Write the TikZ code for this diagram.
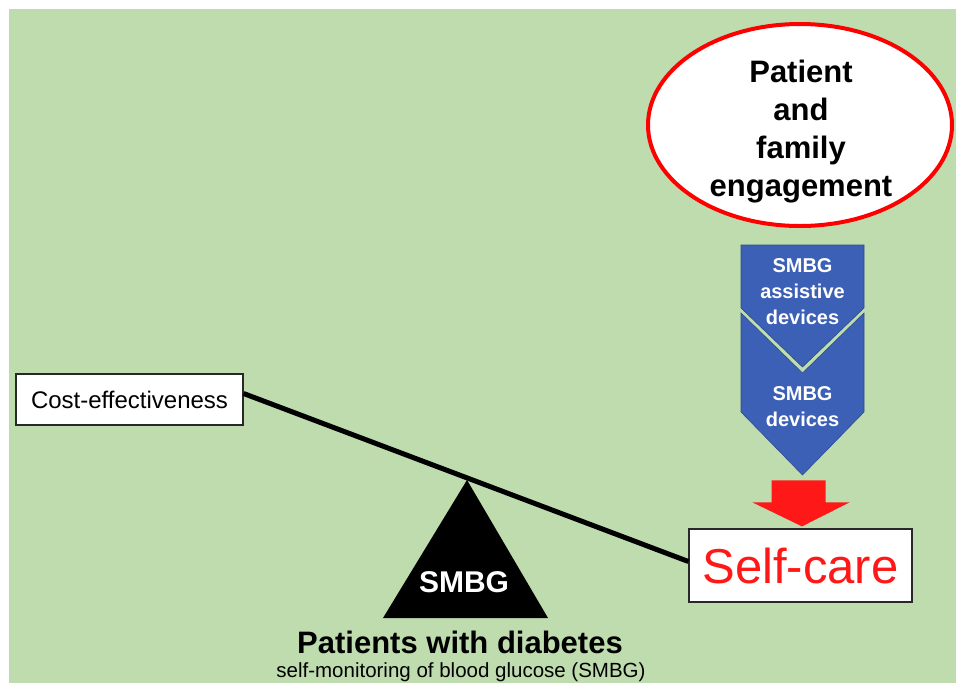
\documentclass[tikz,border=0pt]{standalone}
\usepackage{fontspec}
\setmainfont{Liberation Sans}
\usetikzlibrary{calc}
\definecolor{bggreen}{RGB}{191,220,175}
\definecolor{chevblue}{RGB}{60,96,182}
\definecolor{chevedge}{RGB}{45,75,145}
\definecolor{arrowred}{RGB}{255,24,24}
\definecolor{boxedge}{RGB}{40,40,40}
\tikzset{
  fs/.style={font=\fontsize{#1}{#1}\selectfont},
  whitebox/.style={draw=boxedge, fill=white, line width=1.2pt, inner sep=0pt},
  chevtext/.style={text=white, align=center, inner sep=0pt, font=\bfseries\fontsize{20}{26}\selectfont},
  chevshape/.style={fill=chevblue, draw=chevedge, line width=0.6pt, line join=miter},
}
\begin{document}
\begin{tikzpicture}[x=1pt,y=-1pt]
\fill[white] (0,0) rectangle (956,683);
\fill[bggreen] (9,9) rectangle (956,683);
\useasboundingbox (0,0) rectangle (956,683);

% engagement ellipse
\draw[red, line width=4pt, fill=white] (800,125) ellipse [x radius=152, y radius=101];
\node[align=center, inner sep=0pt, font=\bfseries\fontsize{31}{38}\selectfont] (eng) at (801,132) {Patient\\and\\family\\engagement};

% chevrons
\path[chevshape] (741,245) -- (864,245) -- (864,308) -- (802.5,367) -- (741,308) -- cycle;
\path[chevshape] (741,313) -- (802.5,373) -- (864,313) -- (864,412) -- (802.5,475) -- (741,412) -- cycle;
\node[chevtext] (c1) at (802.5,292) {SMBG\\assistive\\devices};
\node[chevtext] (c2) at (802.5,407) {SMBG\\devices};

% boxes
\node[whitebox, minimum width=227, minimum height=51, fs=24] (cost) at (129.5,399.5) {Cost-effectiveness};
\node[whitebox, minimum width=223, minimum height=73, text=arrowred, fs=49] (self) at (800.5,565.5) {Self-care};

% red block arrow into self-care
\coordinate (tip) at (self.north);
\fill[arrowred] ($(tip)+(-29,-48)$) -- ($(tip)+(25,-48)$) -- ($(tip)+(25,-26)$) -- ($(tip)+(49,-26)$)
  -- ($(tip)+(1.5,-2)$) -- ($(tip)+(-48,-26)$) -- ($(tip)+(-29,-26)$) -- cycle;

% balance beam
\draw[line width=5pt] ([yshift=6pt]cost.east) -- ([yshift=4pt]self.west);

% fulcrum
\fill[black] (467,480) -- (548,618) -- (383,618) -- cycle;
\node[text=white, inner sep=0pt, font=\bfseries\fontsize{30}{30}\selectfont] (smbg) at (464,582.5) {SMBG};

% captions
\node[inner sep=0pt, font=\bfseries\fontsize{31}{31}\selectfont] (pwd) at (460,642) {Patients with diabetes};
\node[inner sep=0pt, fs=20.5] (sub) at (461,672) {self-monitoring of blood glucose (SMBG)};
\end{tikzpicture}
\end{document}
